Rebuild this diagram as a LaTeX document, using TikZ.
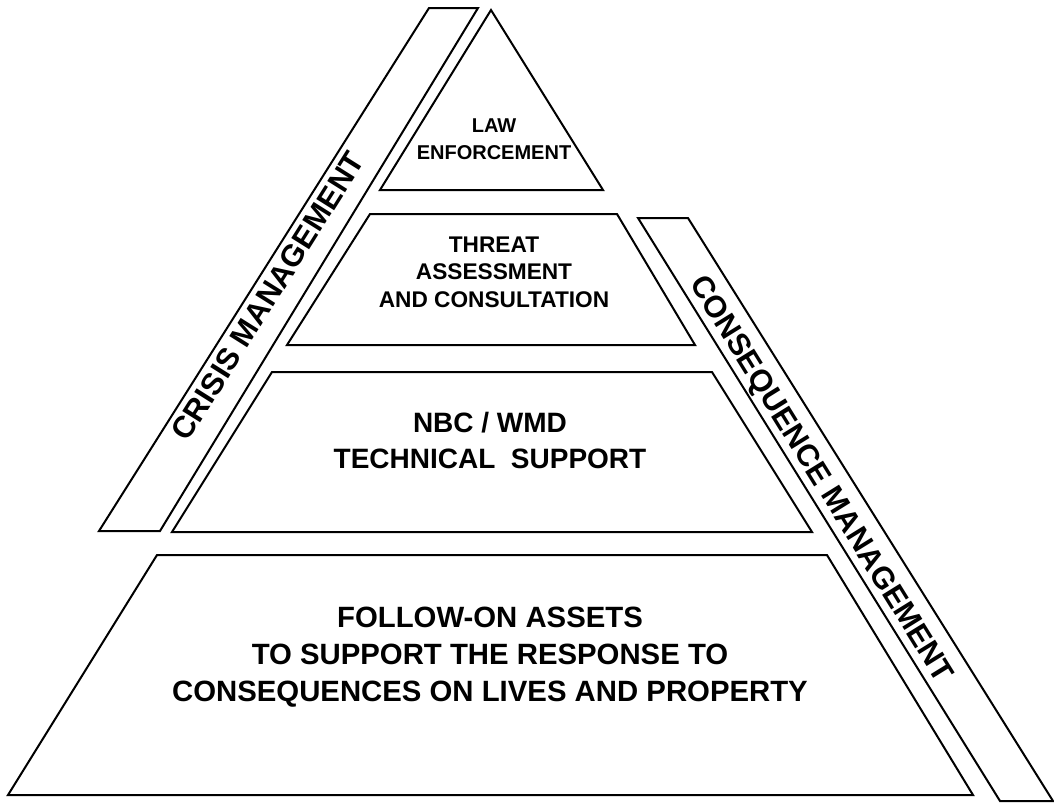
\documentclass[tikz,border=0pt]{standalone}
\usepackage{fontspec}
\setmainfont{Liberation Sans}
\begin{document}
\begin{tikzpicture}[x=0.75pt,y=-0.75pt,
  shp/.style={draw=black,line width=1.5pt,line join=miter},
  lbl/.style={font=\bfseries,align=center,inner sep=0pt}]
\useasboundingbox (0,0) rectangle (1054,803);
% bands
\draw[shp] (99,531) -- (429,8) -- (478,8) -- (160,531) -- cycle;
\draw[shp] (638,218) -- (688,218) -- (1053,801) -- (1000,801) -- cycle;
% pyramid layers
\draw[shp] (491,10) -- (603,190) -- (380,190) -- cycle;
\draw[shp] (370,214) -- (617,214) -- (695,345) -- (287,345) -- cycle;
\draw[shp] (272,372) -- (712,372) -- (812,532) -- (172,532) -- cycle;
\draw[shp] (157,555) -- (827,555) -- (973,795) -- (8,795) -- cycle;
% labels
\node[lbl,font=\bfseries\fontsize{15}{20}\selectfont] (law) at (494,139) {LAW\\ENFORCEMENT};
\node[lbl,font=\bfseries\fontsize{17}{20.6}\selectfont] (threat) at (494,272) {THREAT\\ASSESSMENT\\AND CONSULTATION};
\node[lbl,font=\bfseries\fontsize{21}{27}\selectfont] (nbc) at (490,440) {NBC / WMD\\TECHNICAL\ \ SUPPORT};
\node[lbl,font=\bfseries\fontsize{22}{27.75}\selectfont] (follow) at (490,657) {FOLLOW-ON ASSETS\\TO SUPPORT THE RESPONSE TO\\CONSEQUENCES ON LIVES AND PROPERTY};
\node[lbl,font=\bfseries\fontsize{23}{23}\selectfont,rotate=57.8] (crisis) at (268,296) {CRISIS MANAGEMENT};
\node[lbl,font=\bfseries\fontsize{23}{23}\selectfont,rotate=-58.2] (conseq) at (820,480) {CONSEQUENCE MANAGEMENT};
\end{tikzpicture}
\end{document}
